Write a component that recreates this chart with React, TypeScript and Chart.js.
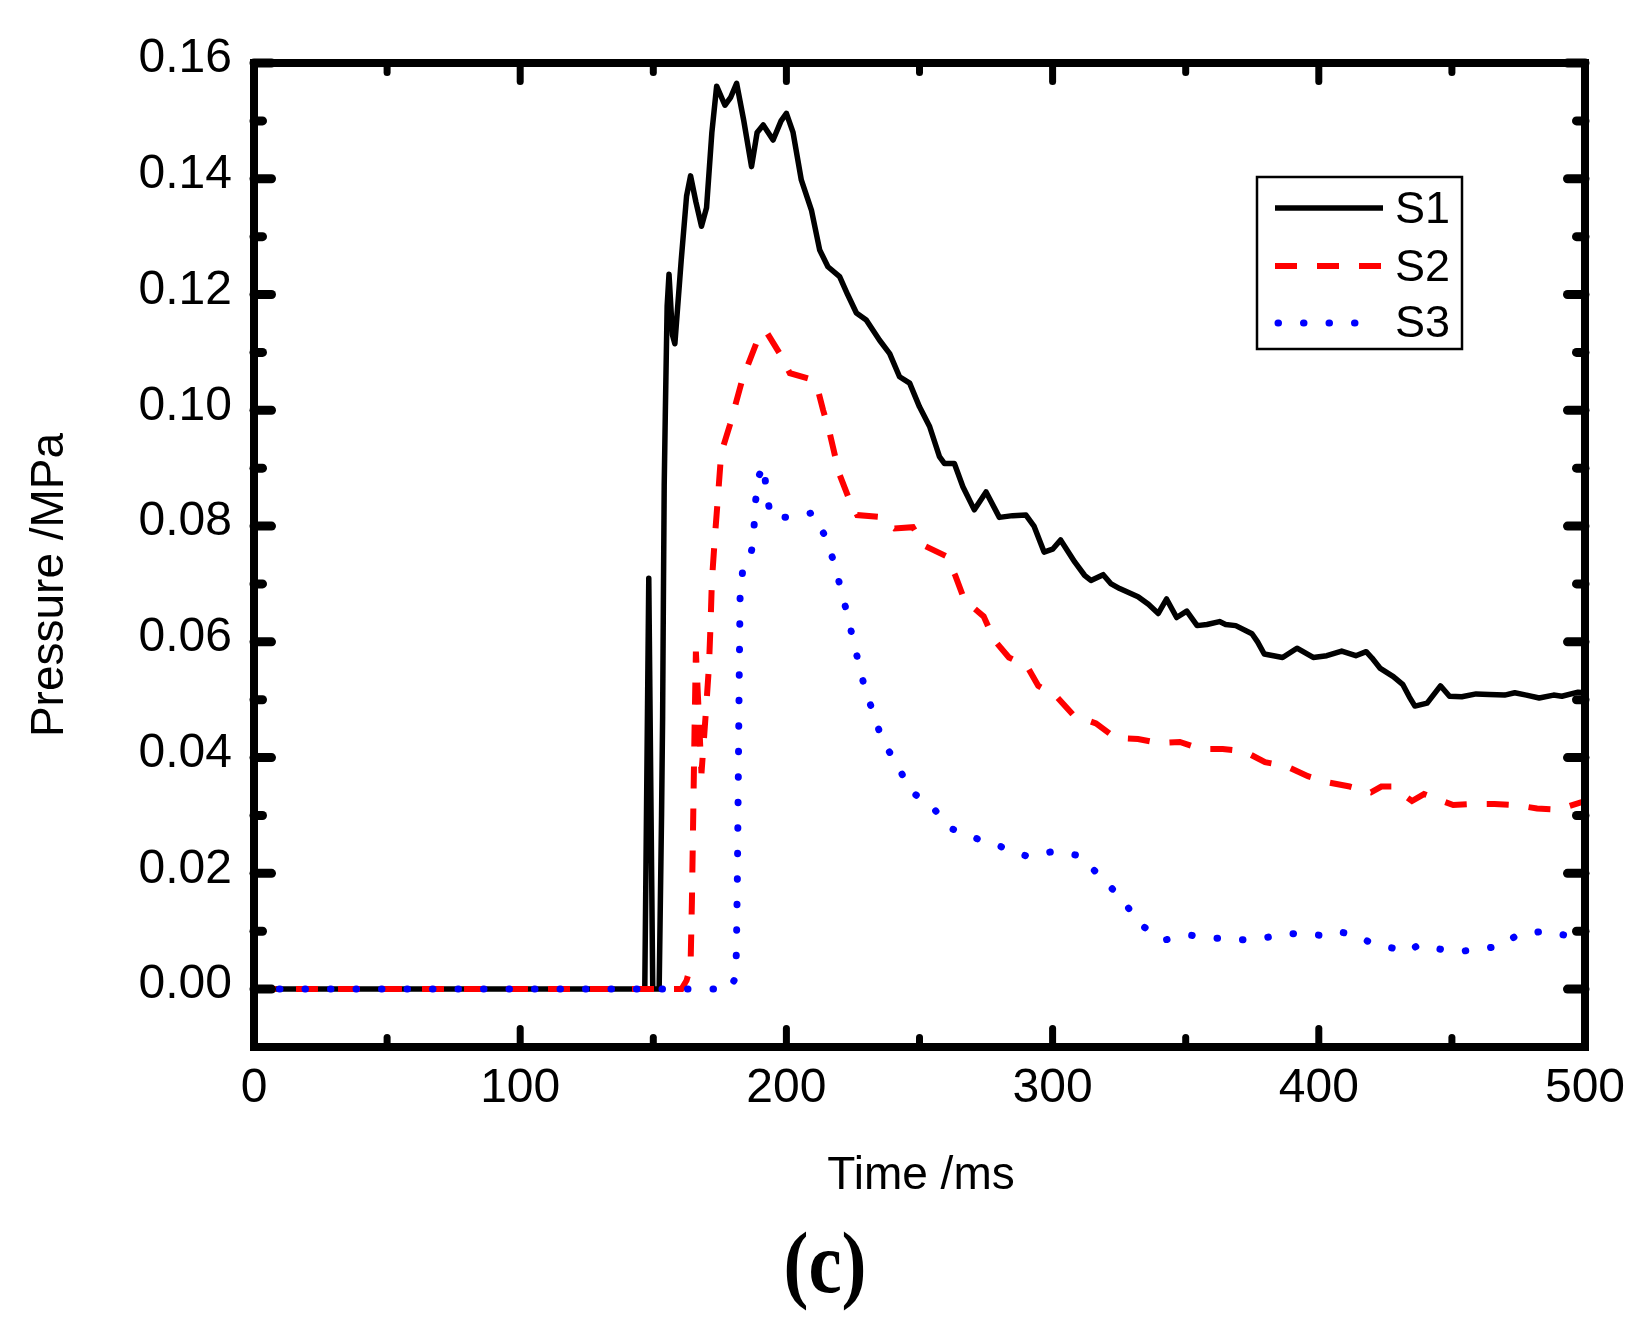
import React, { useEffect, useRef } from 'react';
import { Chart, registerables } from 'chart.js';

Chart.register(...registerables);

const xTicks = [0, 100, 200, 300, 400, 500];
const xMinorTicks = [50, 150, 250, 350, 450];
const yTicks = [0, 0.02, 0.04, 0.06, 0.08, 0.1, 0.12, 0.14, 0.16];
const yMinorTicks = [0.01, 0.03, 0.05, 0.07, 0.09, 0.11, 0.13, 0.15];

const s1Time = [
  0, 146.8, 148.3, 149.8, 152.2, 153.1, 153.5, 153.8, 154.1, 154.5, 154.9, 155.2, 155.9, 157.2, 158.1,
  160.5, 162.5, 164, 166, 168.1, 170, 172, 173.8, 176.9, 179, 181.3, 184, 186.9, 189, 191.3, 195, 198,
  200, 202.5, 205.6, 209.4, 212.5, 215.6, 220, 223, 226.3, 230, 235, 238.8, 242.5, 246.3, 250, 253.8,
  257.5, 259.4, 263.1, 266.3, 270.6, 275, 280, 285, 290, 293, 296.8, 300, 303, 308.3, 312, 314.4, 319,
  322, 325.2, 332.1, 336, 339.7, 342.8, 346.6, 350.4, 354.3, 358, 362.7, 365, 368.8, 374.9, 377, 379.5,
  383, 386.4, 391.8, 397.9, 403, 408.6, 413.9, 417.8, 420, 423.1, 428, 431.6, 434, 436.1, 440.7, 445.7,
  449.1, 453.7, 459.1, 464, 469.8, 473.6, 478, 482.8, 488.2, 491.3, 497.4, 500,
];
const s1Pressure = [
  0, 0, 0.071, 0, 0, 0.03, 0.047, 0.068, 0.087, 0.099, 0.11, 0.118, 0.1235, 0.113, 0.1115,
  0.126, 0.137, 0.1405, 0.136, 0.1318, 0.135, 0.148, 0.156, 0.1527, 0.154, 0.1565, 0.15, 0.1421, 0.148, 0.1493, 0.1467, 0.15,
  0.1513, 0.148, 0.1398, 0.1346, 0.1277, 0.1248, 0.1231, 0.12, 0.1168, 0.1156, 0.1121, 0.1098, 0.1058, 0.1047, 0.1006, 0.0972,
  0.092, 0.0908, 0.0908, 0.0868, 0.0828, 0.0859, 0.0815, 0.0818, 0.0819, 0.08, 0.0755, 0.076, 0.0776, 0.0738, 0.0715, 0.0706, 0.0716,
  0.07, 0.0692, 0.0678, 0.0665, 0.0649, 0.0674, 0.0642, 0.0653, 0.0628, 0.063, 0.0635, 0.063, 0.0628, 0.0614, 0.06, 0.0579,
  0.0576, 0.0573, 0.0589, 0.0573, 0.0576, 0.0584, 0.0576, 0.0583, 0.0572, 0.0554, 0.054, 0.0526, 0.0505, 0.0489, 0.0494, 0.0524,
  0.0506, 0.0505, 0.051, 0.0509, 0.0508, 0.0512, 0.0508, 0.0503, 0.0508, 0.0506, 0.0513, 0.0512,
];

const s2Time = [
  0, 160.6, 162.5, 164, 164.5, 165, 165.5, 166, 168.1, 169.8, 170.9, 171.5, 172, 173.1, 174.3, 175.5,
  178.8, 183.5, 189.3, 192.3, 197.5, 201.3, 208.1, 211.5, 213.8, 216, 219.8, 223.1, 226.6, 234.4, 240.6,
  247.5, 251.9, 260, 263.5, 266.9, 274.1, 278.1, 283.6, 290.4, 294.6, 301.4, 307.9, 316.3, 323.6, 332.1,
  340, 347.8, 355.5, 363.9, 371.9, 379.8, 387.9, 395.9, 403.7, 411.6, 419.6, 423.5, 427.5, 435, 439.5,
  450.5, 458, 466, 474.1, 482, 490, 500,
];
const s2Pressure = [
  0, 0, 0.0015, 0.004, 0.015, 0.03, 0.045, 0.0583, 0.0373, 0.0482, 0.0557, 0.0629, 0.0704, 0.0779, 0.0851, 0.0926,
  0.0975, 0.1054, 0.1123, 0.1137, 0.1098, 0.1064, 0.1055, 0.1041, 0.1, 0.0966, 0.0891, 0.0852, 0.0819, 0.0816, 0.0796,
  0.0798, 0.0766, 0.0748, 0.0714, 0.0672, 0.0644, 0.0603, 0.0573, 0.0558, 0.0524, 0.0506, 0.0473, 0.0459, 0.0434, 0.0432,
  0.0425, 0.0427, 0.0415, 0.0415, 0.0411, 0.0392, 0.0385, 0.0368, 0.0357, 0.035, 0.034, 0.035, 0.035, 0.0325, 0.0337,
  0.0318, 0.032, 0.032, 0.0318, 0.0312, 0.031, 0.0325,
];

const s3Time = [
  0, 178.5, 180.6, 181.2, 181.6, 182, 182.3, 182.6, 183.5, 186, 187, 187.8, 188.4, 189.5, 191.5, 192.5,
  194.1, 202.3, 209.8, 214.6, 217.9, 220.3, 222.8, 225, 227.2, 229.6, 232.9, 236, 241.7, 246.7, 254.5,
  262.1, 271.5, 281.3, 290.7, 300.3, 309.7, 317.5, 326.4, 332.7, 342.1, 351.9, 361.7, 370.6, 380, 388.8,
  395.5, 400.6, 406.5, 413.2, 419.6, 425.5, 433.8, 437.3, 445.6, 453, 460.3, 467.7, 475.2, 485, 494.9, 500,
];
const s3Pressure = [
  0, 0, 0.0017, 0.0061, 0.02, 0.04, 0.055, 0.0676, 0.072, 0.0735, 0.076, 0.0795, 0.0842, 0.0885, 0.0905, 0.0859,
  0.0816, 0.0815, 0.0823, 0.0782, 0.0737, 0.0694, 0.0649, 0.0605, 0.0562, 0.0517, 0.0474, 0.043, 0.0387, 0.0342, 0.0316,
  0.0277, 0.026, 0.0245, 0.0229, 0.0238, 0.0231, 0.0197, 0.0154, 0.0112, 0.0085, 0.0093, 0.0088, 0.0085, 0.0089, 0.0096,
  0.0095, 0.0093, 0.01, 0.0094, 0.008, 0.0073, 0.0065, 0.0076, 0.0069, 0.0065, 0.0069, 0.0074, 0.0095, 0.01, 0.0091, 0.0098,
];

const seriesNames = ['S1', 'S2', 'S3'];

const SANS = "'Liberation Sans', Arial, sans-serif";
const SERIF = "'Liberation Serif', 'Times New Roman', serif";

const toPoints = (t: number[], p: number[]) => t.map((x, i) => ({ x, y: p[i] }));

const framePlugin = {
  id: 'frame',
  afterDraw(chart: any) {
    const { ctx, chartArea: a, scales } = chart;
    const xs = scales.x;
    const ys = scales.y;
    ctx.save();
    ctx.strokeStyle = '#000';
    ctx.fillStyle = '#000';
    ctx.lineCap = 'round';

    const seg = (x1: number, y1: number, x2: number, y2: number) => {
      ctx.beginPath();
      ctx.moveTo(x1, y1);
      ctx.lineTo(x2, y2);
      ctx.stroke();
    };

    // inward ticks on bottom and top
    ctx.lineWidth = 7;
    const xTick = (v: number, len: number) => {
      const px = xs.getPixelForValue(v);
      seg(px, a.bottom, px, a.bottom - len + 3.5);
      seg(px, a.top, px, a.top + len - 3.5);
    };
    xTicks.forEach((v) => xTick(v, 22));
    xMinorTicks.forEach((v) => xTick(v, 13));

    // inward ticks on left and right
    ctx.lineWidth = 9;
    const yTick = (v: number, len: number) => {
      const py = ys.getPixelForValue(v);
      seg(a.left, py, a.left + len - 4.5, py);
      seg(a.right, py, a.right - len + 4.5, py);
    };
    yTicks.forEach((v) => yTick(v, 22));
    yMinorTicks.forEach((v) => yTick(v, 13));

    // frame
    ctx.lineCap = 'butt';
    ctx.lineWidth = 8;
    ctx.strokeRect(a.left, a.top, a.right - a.left, a.bottom - a.top);

    // legend
    const lx = 1257, ly = 177, lw = 205, lh = 172;
    ctx.fillStyle = '#fff';
    ctx.fillRect(lx, ly, lw, lh);
    ctx.lineWidth = 2.5;
    ctx.strokeStyle = '#000';
    ctx.strokeRect(lx, ly, lw, lh);
    const rows = [208, 266, 323];
    const ends = [1383, 1383, 1360];
    chart.data.datasets.forEach((ds: any, i: number) => {
      ctx.save();
      ctx.strokeStyle = ds.borderColor;
      ctx.lineWidth = ds.borderWidth;
      ctx.lineCap = ds.borderCapStyle || 'butt';
      ctx.setLineDash(ds.borderDash || []);
      seg(i === 2 ? 1278 : 1275, rows[i], ends[i], rows[i]);
      ctx.restore();
    });
    ctx.fillStyle = '#000';
    ctx.font = `45px ${SANS}`;
    ctx.textAlign = 'left';
    ctx.textBaseline = 'alphabetic';
    [223, 281, 337].forEach((by, i) => ctx.fillText(seriesNames[i], 1395, by));

    // axis titles
    ctx.save();
    ctx.translate(63, 585);
    ctx.rotate(-Math.PI / 2);
    ctx.font = `46px ${SANS}`;
    ctx.textAlign = 'center';
    ctx.fillText('Pressure /MPa', 0, 0);
    ctx.restore();

    ctx.font = `46px ${SANS}`;
    ctx.textAlign = 'center';
    ctx.fillText('Time /ms', 921, 1189);

    // panel label
    ctx.save();
    ctx.translate(825, 1292);
    ctx.scale(0.87, 1);
    ctx.font = `bold 86px ${SERIF}`;
    ctx.textAlign = 'center';
    ctx.fillText('(c)', 0, 0);
    ctx.restore();

    ctx.restore();
  },
};

export default function App() {
  const canvasRef = useRef<HTMLCanvasElement>(null);
  const chartRef = useRef<Chart | null>(null);

  useEffect(() => {
    document.body.style.margin = '0';
    if (!canvasRef.current) return;
    const ctx = canvasRef.current.getContext('2d');
    if (!ctx) return;
    if (chartRef.current) chartRef.current.destroy();

    chartRef.current = new Chart(ctx, {
      type: 'line',
      data: {
        datasets: [
          {
            label: seriesNames[0],
            data: toPoints(s1Time, s1Pressure),
            borderColor: '#000000',
            borderWidth: 5.5,
            borderJoinStyle: 'round',
            order: 3,
          },
          {
            label: seriesNames[1],
            data: toPoints(s2Time, s2Pressure),
            borderColor: '#ff0000',
            borderWidth: 6,
            borderDash: [22, 20],
            borderCapStyle: 'butt',
            order: 2,
          },
          {
            label: seriesNames[2],
            data: toPoints(s3Time, s3Pressure),
            borderColor: '#0000ff',
            borderWidth: 7,
            borderDash: [0.5, 25],
            borderCapStyle: 'round',
            order: 1,
          },
        ],
      },
      options: {
        responsive: false,
        animation: false,
        devicePixelRatio: 1,
        layout: { padding: { left: 0, right: 56, top: 63, bottom: 0 } },
        elements: { point: { radius: 0 }, line: { tension: 0 } },
        scales: {
          x: {
            type: 'linear',
            min: 0,
            max: 500,
            grid: { display: false, drawTicks: false },
            border: { display: false },
            afterBuildTicks: (scale: any) => { scale.ticks = xTicks.map((value) => ({ value })); },
            afterFit: (scale: any) => { scale.height = 274; },
            ticks: {
              autoSkip: false,
              maxRotation: 0,
              minRotation: 0,
              padding: 13,
              color: '#000',
              font: { family: SANS, size: 48 },
              callback: (v: any) => String(v),
            },
          },
          y: {
            type: 'linear',
            min: -0.01,
            max: 0.16,
            grid: { display: false, drawTicks: false },
            border: { display: false },
            afterBuildTicks: (scale: any) => { scale.ticks = yTicks.map((value) => ({ value })); },
            afterFit: (scale: any) => { scale.width = 254; },
            ticks: {
              padding: 22,
              labelOffset: -4,
              color: '#000',
              font: { family: SANS, size: 48 },
              callback: (v: any) => Number(v).toFixed(2),
            },
          },
        },
        plugins: {
          legend: { display: false },
          tooltip: { enabled: false },
        },
      },
      plugins: [framePlugin],
    });

    return () => { if (chartRef.current) chartRef.current.destroy(); };
  }, []);

  return <canvas ref={canvasRef} width={1641} height={1321} style={{ display: 'block' }} />;
}
